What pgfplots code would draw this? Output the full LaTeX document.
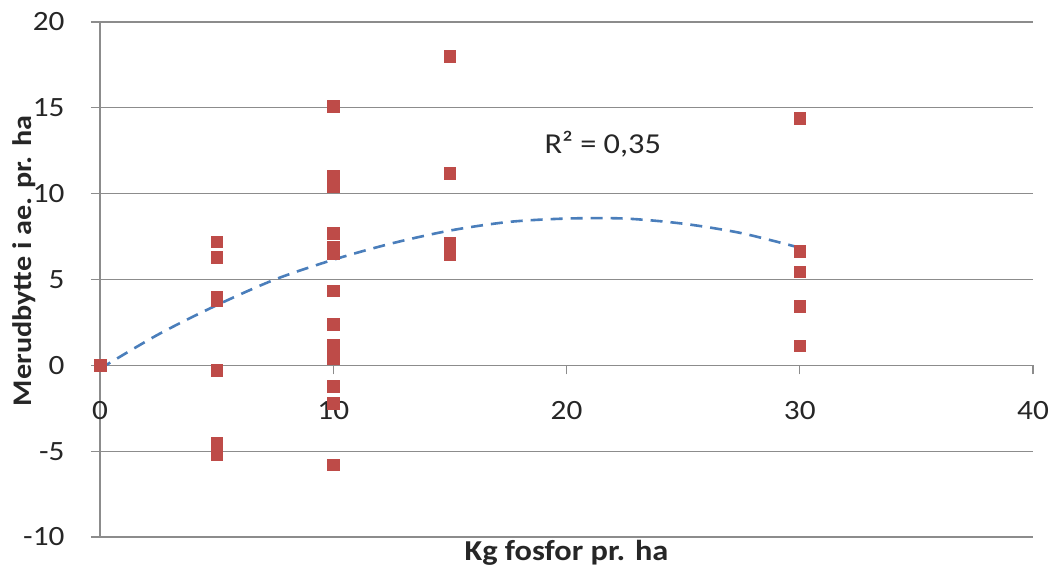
\documentclass[border=0pt]{standalone}
\usepackage{fontspec}
\setmainfont{Carlito}[FakeStretch=1.12]
\usepackage{pgfplots}
\pgfplotsset{compat=1.18}
\definecolor{mred}{HTML}{BE4B48}
\definecolor{tblue}{HTML}{4A7EBB}
\definecolor{gridc}{HTML}{8C8C8C}
\definecolor{txt}{HTML}{262626}
\begin{document}
\begin{tikzpicture}[x=1bp,y=1bp]
\path[use as bounding box] (-100,-37) rectangle (949,537);
\begin{axis}[
  at={(0,0)}, anchor=south west,
  scale only axis, width=933bp, height=515bp,
  xmin=0, xmax=40, ymin=-10, ymax=20,
  axis x line=middle, axis y line=left,
  hide obscured x ticks=false, hide obscured y ticks=false,
  axis line style={-, draw=gridc, line width=1.3bp},
  xtick={0,10,20,30,40}, xticklabels={0,10,20,30,40},
  ytick={-10,-5,0,5,10,15,20}, yticklabels={-10,-5,0,5,10,15,20},
  ymajorgrids, grid style={gridc, line width=1.3bp},
  tick style={gridc, line width=1.3bp},
  tick align=outside, major tick length=9bp,
  xticklabel style={font=\fontsize{28}{32}\selectfont, text=txt, yshift=-24bp},
  yticklabel style={font=\fontsize{28}{32}\selectfont, text=txt, xshift=-23bp},
  every axis x label/.style={at={(axis description cs:0.5,-0.031)}, anchor=center, font=\bfseries\fontsize{29}{32}\selectfont, text=txt},
  every axis y label/.style={at={(axis description cs:-0.081,0.536)}, rotate=90, anchor=center, font=\bfseries\fontsize{27}{32}\selectfont, text=txt},
  xlabel={Kg fosfor pr. ha},
  ylabel={Merudbytte i ae. pr. ha},
  clip=false,
]
% fitted trend
\addplot[tblue, line width=2.6bp, dash pattern=on 12bp off 8bp, smooth] coordinates {
 (0,-0.2) (2.5,1.8) (5,3.5) (7.5,5.0) (10,6.15) (12.5,7.1) (15,7.85) (17.5,8.35)
 (20,8.55) (22.5,8.55) (25,8.25) (27.5,7.7) (30,6.85)
};
\addplot[only marks, mark=square*, mark size=5.8bp, mark options={fill=mred, draw=mred}] coordinates {
 (0,0)
 (5,7.2) (5,6.3) (5,4.0) (5,3.8) (5,-0.3) (5,-4.5) (5,-5.2)
 (10,15.1) (10,11.0) (10,10.7) (10,10.4) (10,7.7) (10,6.9) (10,6.5) (10,4.35) (10,2.4)
 (10,1.2) (10,0.8) (10,0.4) (10,-1.2) (10,-2.2) (10,-5.8)
 (15,18.0) (15,11.2) (15,7.1) (15,6.45)
 (30,14.4) (30,6.65) (30,5.45) (30,3.45) (30,1.15)
};
\node[anchor=west, inner sep=0pt, font=\fontsize{29}{32}\selectfont, text=txt] at (axis cs:19.05,12.9) {R² = 0,35};
\end{axis}
\end{tikzpicture}
\end{document}
